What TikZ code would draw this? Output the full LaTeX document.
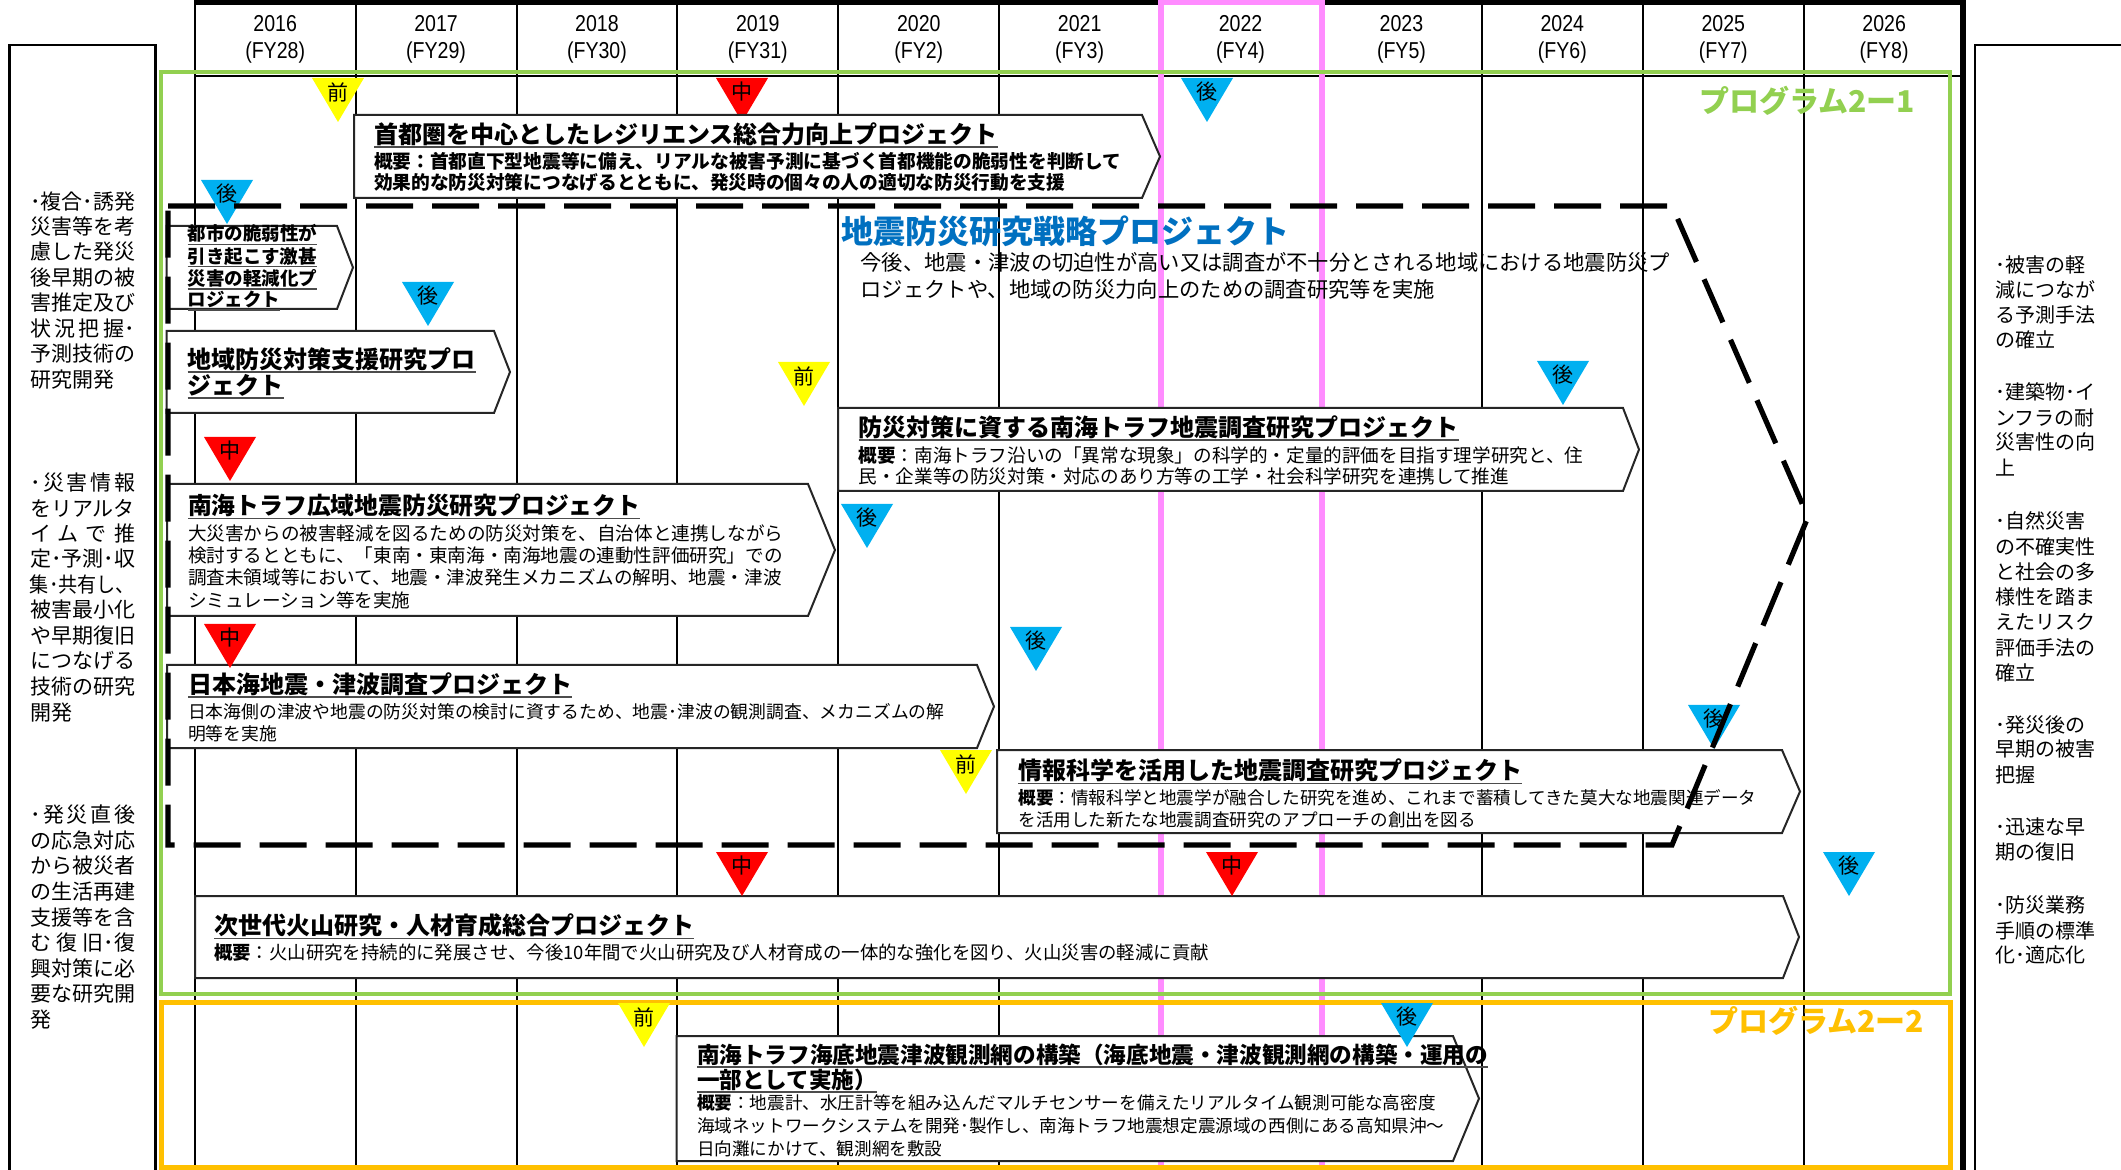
\documentclass[tikz,border=0pt]{standalone}
\usepackage{fontspec}
\usepackage{graphicx}
\setmainfont{Noto Sans CJK JP}
\newfontfamily\yearfont[FakeStretch=0.85]{Liberation Sans}
\definecolor{pgreen}{HTML}{92D050}
\definecolor{pyellow}{HTML}{FFC000}
\definecolor{ppink}{RGB}{255,140,255}
\definecolor{mY}{HTML}{FFFF00}
\definecolor{mR}{HTML}{FF0000}
\definecolor{mB}{HTML}{00B0F0}
\definecolor{tblue}{HTML}{0070C0}
\newcommand\F[1]{\fontsize{#1pt}{#1pt}\selectfont}
\newcommand\ulx[1]{\setbox0=\hbox{#1}\rlap{\color{black!70}\rule[-2.2pt]{\wd0}{0.8pt}}\box0}
\newcommand\mk[5]{\fill[#4] ({#2-26},#3) -- ({#2+26},#3) -- (#2,{#3+44}) -- cycle;
  \node[mlab] (#1) at (#2,{#3+14}) {#5};}
\newcommand\pbox[5]{\draw[projbox] (#1,#2) -- (#3,#2) -- (#4,{(#2+#5)/2}) -- (#3,#5) -- (#1,#5) -- cycle;}
\newcommand\LW{\makebox[52.5pt][s]}
\begin{document}
\begin{tikzpicture}[x=0.5pt,y=-0.5pt,
  tl/.style={anchor=west,inner sep=0pt,outer sep=0pt},
  colline/.style={line width=1pt,black},
  projbox/.style={draw=black!85,line width=1pt,fill=white,line join=miter},
  mlab/.style={inner sep=0pt,font=\F{10.5}},
  yearlab/.style={inner sep=0pt,font=\yearfont\F{11.5}},
  dashline/.style={line width=2.6pt,black,dash pattern=on 23.5pt off 9.5pt},
  lefttxt/.style={tl,font=\F{10.5}},
  righttxt/.style={tl,font=\F{10}}]
\useasboundingbox (0,0) rectangle (2121,1170);
\fill[white] (0,0) rectangle (2121,1170);
% column lines
\foreach \i in {0,...,10} { \draw[colline] ({194.7+160.9*\i},0) -- ({194.7+160.9*\i},1170); }
% header
\draw[line width=2.5pt] (194.7,2.5) -- (1966,2.5);
\draw[line width=1pt] (194.7,76) -- (1964,76);
\draw[line width=3pt] (1963,0) -- (1963,1170);
% pink year 2022
\draw[ppink,line width=3pt] (1161,1170) -- (1161,2.5) -- (1322,2.5) -- (1322,1170);
% years
\foreach \yr/\fy [count=\i from 0] in {2016/28,2017/29,2018/30,2019/31,2020/2,2021/3,2022/4,2023/5,2024/6,2025/7,2026/8} {
  \node[yearlab] (yr\yr) at ({275.15+160.9*\i},24) {\yr};
  \node[yearlab] (fy\yr) at ({275.15+160.9*\i},53) {(FY\fy)};
}
% side boxes
\draw[line width=1.3pt] (9.5,1180) -- (9.5,45) -- (155.5,45) -- (155.5,1180);
\draw[line width=1.3pt] (1975,1180) -- (1975,45) -- (2130,45);
% program rectangles
\draw[pgreen,line width=2.3pt] (161,72) rectangle (1950,994);
\draw[pyellow,line width=2.5pt] (161,1002) rectangle (1950,1167);
\node[tl,font=\F{15}\bfseries,text=pgreen] (prog1) at (1699,101) {プログラム2ー1};
\node[tl,font=\F{15}\bfseries,text=pyellow] (prog2) at (1708,1021) {プログラム2ー2};
% marker under box 1
\mk{m2}{742}{78}{mR}{中}
% project boxes
\pbox{354}{115}{1142}{1160}{198}
\pbox{166.5}{226}{337}{353}{309}
\pbox{166.5}{331}{494}{510}{413}
\pbox{167}{484}{808}{835}{616}
\pbox{167}{665}{977}{994}{748}
\pbox{838}{408}{1623}{1639}{491}
\pbox{997}{750}{1782}{1800}{833}
\pbox{195}{896}{1783}{1799}{978}
\pbox{676.5}{1036}{1453}{1479}{1161}
% markers
\mk{m1}{338}{78}{mY}{前}
\mk{m3}{1207}{78}{mB}{後}
\mk{m4}{227}{180}{mB}{後}
\mk{m5}{428}{282}{mB}{後}
\mk{m6}{804}{362}{mY}{前}
\mk{m7}{230}{437}{mR}{中}
\mk{m8}{1563}{361}{mB}{後}
\mk{m9}{867}{504}{mB}{後}
\mk{m10}{230}{624}{mR}{中}
\mk{m11}{1036}{627}{mB}{後}
\mk{m12}{966}{750}{mY}{前}
\mk{m13}{1714}{705}{mB}{後}
\mk{m14}{742}{852}{mR}{中}
\mk{m15}{1232}{852}{mR}{中}
\mk{m16}{1849}{852}{mB}{後}
\mk{m17}{644}{1003}{mY}{前}
\mk{m18}{1407}{1003}{mB}{後}
% strategy dashed outline
\draw[dashline] (168,206) -- (1672,206) -- (1808,517) -- (1672,845) -- (168,845) -- cycle;
\node[tl,font=\F{16}\bfseries,text=tblue] (stitle) at (841,231) {地震防災研究戦略プロジェクト};
\node[tl,font=\F{10.65}] (s1) at (860.6,262) {今後、地震・津波の切迫性が高い又は調査が不十分とされる地域における地震防災プ};
\node[tl,font=\F{10.65}] (s2) at (860.6,289.5) {ロジェクトや、地域の防災力向上のための調査研究等を実施};
% box 1
\node[tl,font=\F{12}\bfseries] (b1t) at (374,135) {\ulx{首都圏を中心としたレジリエンス総合力向上プロジェクト}};
\node[tl,font=\F{9.35}\bfseries] (b1a) at (374,161) {概要：首都直下型地震等に備え、リアルな被害予測に基づく首都機能の脆弱性を判断して};
\node[tl,font=\F{9.35}\bfseries] (b1b) at (374,182.6) {効果的な防災対策につなげるとともに、発災時の個々の人の適切な防災行動を支援};
% box 2
\node[tl,font=\F{9.25}\bfseries] (b2a) at (187.7,235) {\ulx{都市の脆弱性が}};
\node[tl,font=\F{9.25}\bfseries] (b2b) at (187.7,257.3) {\ulx{引き起こす激甚}};
\node[tl,font=\F{9.25}\bfseries] (b2c) at (187.7,279.3) {\ulx{災害の軽減化プ}};
\node[tl,font=\F{9.25}\bfseries] (b2d) at (187.7,300.7) {\ulx{ロジェクト}};
% box 3
\node[tl,font=\F{12}\bfseries] (b3a) at (187.7,360) {\ulx{地域防災対策支援研究プロ}};
\node[tl,font=\F{12}\bfseries] (b3b) at (187.7,386.7) {\ulx{ジェクト}};
% box 4
\node[tl,font=\F{11.9}\bfseries] (b4t) at (188,506.7) {\ulx{南海トラフ広域地震防災研究プロジェクト}};
\node[tl,font=\F{9.3}] (b4a) at (188,533.3) {大災害からの被害軽減を図るための防災対策を、自治体と連携しながら};
\node[tl,font=\F{9.3}] (b4b) at (188,555) {検討するとともに、「東南・東南海・南海地震の連動性評価研究」での};
\node[tl,font=\F{9.3}] (b4c) at (188,577.7) {調査未領域等において、地震・津波発生メカニズムの解明、地震・津波};
\node[tl,font=\F{9.3}] (b4d) at (188,600) {シミュレーション等を実施};
% box 5
\node[tl,font=\F{12}\bfseries] (b5t) at (188,685) {\ulx{日本海地震・津波調査プロジェクト}};
\node[tl,font=\F{8.9}] (b5a) at (188,711.7) {日本海側の津波や地震の防災対策の検討に資するため、地震･津波の観測調査、メカニズムの解};
\node[tl,font=\F{8.9}] (b5b) at (188,733.3) {明等を実施};
% box 6
\node[tl,font=\F{12}\bfseries] (b6t) at (858.7,428.3) {\ulx{防災対策に資する南海トラフ地震調査研究プロジェクト}};
\node[tl,font=\F{9.3}] (b6a) at (858.7,455) {\textbf{概要}：南海トラフ沿いの「異常な現象」の科学的・定量的評価を目指す理学研究と、住};
\node[tl,font=\F{9.3}] (b6b) at (858.7,476) {民・企業等の防災対策・対応のあり方等の工学・社会科学研究を連携して推進};
% box 7
\node[tl,font=\F{12}\bfseries] (b7t) at (1018.4,771.7) {\ulx{情報科学を活用した地震調査研究プロジェクト}};
\node[tl,font=\F{8.8}] (b7a) at (1018.4,798.3) {\textbf{概要}：情報科学と地震学が融合した研究を進め、これまで蓄積してきた莫大な地震関連データ};
\node[tl,font=\F{8.8}] (b7b) at (1018.4,820) {を活用した新たな地震調査研究のアプローチの創出を図る};
% box 8
\node[tl,font=\F{12}\bfseries] (b8t) at (214,926.7) {\ulx{次世代火山研究・人材育成総合プロジェクト}};
\node[tl,font=\F{9.2}] (b8a) at (214,952.7) {\textbf{概要}：火山研究を持続的に発展させ、今後10年間で火山研究及び人材育成の一体的な強化を図り、火山災害の軽減に貢献};
% box 9
\node[tl,font=\F{11.3}\bfseries] (b9t) at (697,1056) {\ulx{南海トラフ海底地震津波観測網の構築（海底地震・津波観測網の構築・運用の}};
\node[tl,font=\F{11.3}\bfseries] (b9u) at (697,1080.7) {\ulx{一部として実施）}};
\node[tl,font=\F{8.8}] (b9a) at (697,1103.3) {\textbf{概要}：地震計、水圧計等を組み込んだマルチセンサーを備えたリアルタイム観測可能な高密度};
\node[tl,font=\F{8.8}] (b9b) at (697,1125.5) {海域ネットワークシステムを開発･製作し、南海トラフ地震想定震源域の西側にある高知県沖～};
\node[tl,font=\F{8.8}] (b9c) at (697,1148.3) {日向灘にかけて、観測網を敷設};
% left column text
\node[lefttxt] (l1) at (30,201.7) {\LW{･複合･誘発}};
\node[lefttxt] (l2) at (30,226.7) {\LW{災害等を考}};
\node[lefttxt] (l3) at (30,251.7) {\LW{慮した発災}};
\node[lefttxt] (l4) at (30,277.3) {\LW{後早期の被}};
\node[lefttxt] (l5) at (30,302.7) {\LW{害推定及び}};
\node[lefttxt] (l6) at (30,328.3) {\LW{状\hfill 況\hfill 把\hfill 握･}};
\node[lefttxt] (l7) at (30,354) {\LW{予測技術の}};
\node[lefttxt] (l8) at (30,379.3) {研究開発};
\node[lefttxt] (l9) at (30,482.7) {\LW{･\hfill 災\hfill 害\hfill 情\hfill 報}};
\node[lefttxt] (l10) at (30,508.3) {\LW{をリアルタ}};
\node[lefttxt] (l11) at (30,533.3) {\LW{イ\hfill ム\hfill で\hfill 推}};
\node[lefttxt] (l12) at (30,559) {\LW{定･予測･収}};
\node[lefttxt] (l13) at (30,584.3) {\resizebox{52.5pt}{\height}{集･共有し、}};
\node[lefttxt] (l14) at (30,610) {\LW{被害最小化}};
\node[lefttxt] (l15) at (30,635.7) {\LW{や早期復旧}};
\node[lefttxt] (l16) at (30,660.7) {\LW{につなげる}};
\node[lefttxt] (l17) at (30,686.7) {\LW{技術の研究}};
\node[lefttxt] (l18) at (30,712.3) {開発};
\node[lefttxt] (l19) at (30,815) {\LW{･\hfill 発\hfill 災\hfill 直\hfill 後}};
\node[lefttxt] (l20) at (30,840.7) {\LW{の応急対応}};
\node[lefttxt] (l21) at (30,866) {\LW{から被災者}};
\node[lefttxt] (l22) at (30,891.7) {\LW{の生活再建}};
\node[lefttxt] (l23) at (30,917.3) {\LW{支援等を含}};
\node[lefttxt] (l24) at (30,942.7) {\LW{む\hfill 復\hfill 旧･復}};
\node[lefttxt] (l25) at (30,968.3) {\LW{興対策に必}};
\node[lefttxt] (l26) at (30,994) {\LW{要な研究開}};
\node[lefttxt] (l27) at (30,1019.3) {発};
% right column text
\node[righttxt] (r1) at (1995,265) {･被害の軽};
\node[righttxt] (r2) at (1995,289.5) {減につなが};
\node[righttxt] (r3) at (1995,315) {る予測手法};
\node[righttxt] (r4) at (1995,339.5) {の確立};
\node[righttxt] (r5) at (1995,392.3) {･建築物･イ};
\node[righttxt] (r6) at (1995,418) {ンフラの耐};
\node[righttxt] (r7) at (1995,442.3) {災害性の向};
\node[righttxt] (r8) at (1995,468) {上};
\node[righttxt] (r9) at (1995,520.8) {･自然災害};
\node[righttxt] (r10) at (1995,546.5) {の不確実性};
\node[righttxt] (r11) at (1995,572.2) {と社会の多};
\node[righttxt] (r12) at (1995,596.5) {様性を踏ま};
\node[righttxt] (r13) at (1995,622.2) {えたリスク};
\node[righttxt] (r14) at (1995,648) {評価手法の};
\node[righttxt] (r15) at (1995,673) {確立};
\node[righttxt] (r16) at (1995,725) {･発災後の};
\node[righttxt] (r17) at (1995,749.4) {早期の被害};
\node[righttxt] (r18) at (1995,775.1) {把握};
\node[righttxt] (r19) at (1995,826.5) {･迅速な早};
\node[righttxt] (r20) at (1995,852.2) {期の復旧};
\node[righttxt] (r21) at (1995,905) {･防災業務};
\node[righttxt] (r22) at (1995,930.7) {手順の標準};
\node[righttxt] (r23) at (1995,955) {化･適応化};
\end{tikzpicture}
\end{document}
